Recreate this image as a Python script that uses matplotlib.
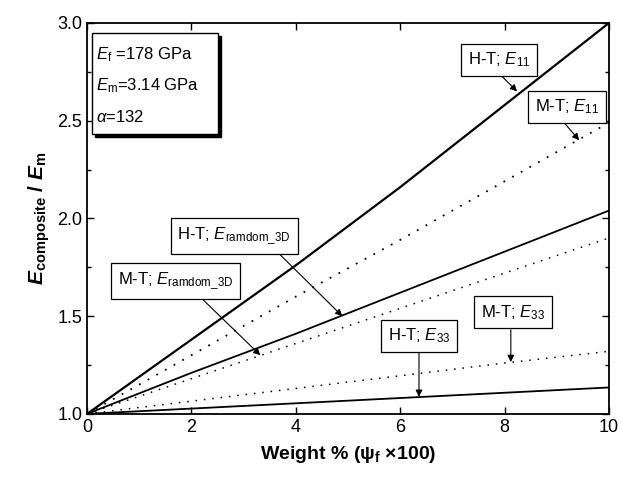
import matplotlib.pyplot as plt
from matplotlib.patches import Rectangle
from matplotlib.ticker import MultipleLocator

plt.rcParams['font.family'] = ['Liberation Sans', 'DejaVu Sans']
plt.rcParams['mathtext.fontset'] = 'custom'
plt.rcParams['mathtext.rm'] = 'Liberation Sans'
plt.rcParams['mathtext.it'] = 'Liberation Sans:italic'
plt.rcParams['mathtext.bf'] = 'Liberation Sans:bold'
plt.rcParams['mathtext.bfit'] = 'Liberation Sans:bold:italic'

# weight % (psi_f x 100)
wt = [0, 2, 4, 6, 8, 10]
ht_e11 = [1.0, 1.38, 1.76, 2.16, 2.58, 3.0]
mt_e11 = [1.0, 1.30, 1.60, 1.89, 2.19, 2.49]
ht_rand = [1.0, 1.21, 1.41, 1.62, 1.83, 2.04]
mt_rand = [1.0, 1.18, 1.36, 1.54, 1.72, 1.90]
mt_e33 = [1.0, 1.065, 1.13, 1.195, 1.26, 1.32]
ht_e33 = [1.0, 1.027, 1.054, 1.081, 1.108, 1.135]

fig = plt.figure(figsize=(6.22, 4.79), dpi=100)
ax = fig.add_axes([0.140, 0.136, 0.839, 0.816])

ax.plot(wt, ht_e11, color='black', lw=1.6)
ax.plot(wt, mt_e11, color='black', lw=1.3, linestyle=(0, (1, 4.5)))
ax.plot(wt, ht_rand, color='black', lw=1.3)
ax.plot(wt, mt_rand, color='black', lw=1.1, linestyle=(0, (1, 4.5)))
ax.plot(wt, mt_e33, color='black', lw=1.1, linestyle=(0, (1, 4.5)))
ax.plot(wt, ht_e33, color='black', lw=1.3)

ax.set_xlim(0, 10)
ax.set_ylim(1.0, 3.0)
ax.xaxis.set_major_locator(MultipleLocator(2))
ax.yaxis.set_major_locator(MultipleLocator(0.5))
ax.yaxis.set_minor_locator(MultipleLocator(0.25))
ax.tick_params(which='both', direction='in', top=True, right=True, labelsize=13)
ax.tick_params(which='major', length=5, width=1)
ax.tick_params(which='minor', length=3, width=1)
ax.yaxis.set_major_formatter(plt.FormatStrFormatter('%.1f'))
for s in ax.spines.values():
    s.set_linewidth(1.3)

ax.set_xlabel(r'Weight % ($\mathbf{\psi}_\mathbf{f}$ $\mathbf{\times}$100)',
              fontsize=14, fontweight='bold', labelpad=6)
ax.set_ylabel(r'$\mathbfit{E}_{\mathbf{composite}}$ / $\mathbfit{E}_{\mathbf{m}}$',
              fontsize=15, fontweight='bold', labelpad=4)

# info box with shadow
ax.add_patch(Rectangle((0.16, 2.415), 2.4, 0.52, facecolor='black', edgecolor='black', zorder=4))
ax.add_patch(Rectangle((0.1, 2.43), 2.4, 0.52, facecolor='white', edgecolor='black', lw=1, zorder=5))
info = [r'$\mathit{E}_{\mathrm{f}}$ =178 GPa', r'$\mathit{E}_{\mathrm{m}}$=3.14 GPa', r'$\alpha$=132']
for i, t in enumerate(info):
    ax.text(0.17, 2.84 - 0.16 * i, t, fontsize=12, va='center', ha='left', zorder=6)

box = dict(boxstyle='square,pad=0.4', facecolor='white', edgecolor='black', lw=0.9)
labels = [
    ('H-T; $\\mathit{E}_{\\mathrm{11}}$', (7.9, 2.81), (7.9, 2.74), (8.24, 2.65)),
    ('M-T; $\\mathit{E}_{\\mathrm{11}}$', (9.2, 2.57), (9.14, 2.49), (9.43, 2.40)),
    ('H-T; $\\mathit{E}_{\\mathrm{ramdom\\_3D}}$', (2.82, 1.91), (3.64, 1.83), (4.89, 1.50)),
    ('M-T; $\\mathit{E}_{\\mathrm{ramdom\\_3D}}$', (1.7, 1.68), (2.16, 1.60), (3.32, 1.30)),
    ('M-T; $\\mathit{E}_{\\mathrm{33}}$', (8.16, 1.52), (8.12, 1.43), (8.12, 1.265)),
    ('H-T; $\\mathit{E}_{\\mathrm{33}}$', (6.36, 1.40), (6.36, 1.32), (6.36, 1.087)),
]
for txt, pos, start, tip in labels:
    ax.text(pos[0], pos[1], txt, fontsize=12, ha='center', va='center', bbox=box, zorder=5)
    ax.annotate('', xy=tip, xytext=start,
                arrowprops=dict(arrowstyle='-|>', color='black', lw=0.8,
                                mutation_scale=10, shrinkA=0, shrinkB=0), zorder=4)

plt.savefig('out.png')
